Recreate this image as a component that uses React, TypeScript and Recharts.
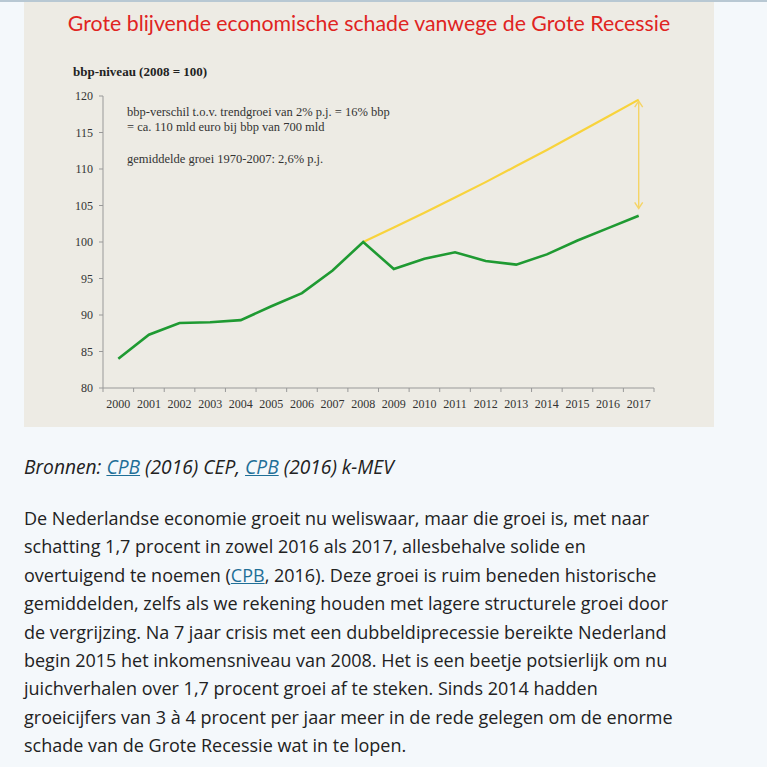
import { LineChart, Line, XAxis, YAxis, ReferenceLine } from 'recharts';

const years = [2000, 2001, 2002, 2003, 2004, 2005, 2006, 2007, 2008, 2009, 2010, 2011, 2012, 2013, 2014, 2015, 2016, 2017];
const bbpLevel = [84.0, 87.3, 88.9, 89.0, 89.3, 91.2, 93.0, 96.1, 100.0, 96.3, 97.7, 98.6, 97.4, 96.9, 98.3, 100.2, 101.9, 103.6];
const trendLevel = [null, null, null, null, null, null, null, null, 100.0, 102.0, 104.0, 106.1, 108.2, 110.4, 112.6, 114.9, 117.2, 119.5];
const yTicks = [80, 85, 90, 95, 100, 105, 110, 115, 120];
const gapTop = 119.3;
const gapBottom = 104.6;

const paragraphLines = [
  'De Nederlandse economie groeit nu weliswaar, maar die groei is, met naar',
  'schatting 1,7 procent in zowel 2016 als 2017, allesbehalve solide en',
  null,
  'gemiddelden, zelfs als we rekening houden met lagere structurele groei door',
  'de vergrijzing. Na 7 jaar crisis met een dubbeldiprecessie bereikte Nederland',
  'begin 2015 het inkomensniveau van 2008. Het is een beetje potsierlijk om nu',
  'juichverhalen over 1,7 procent groei af te steken. Sinds 2014 hadden',
  'groeicijfers van 3 à 4 procent per jaar meer in de rede gelegen om de enorme',
  'schade van de Grote Recessie wat in te lopen.',
];

const data = years.map((year, i) => ({ year, bbp: bbpLevel[i], trend: trendLevel[i] }));

// tick marks sit between the years, labels on the years
const xTicks: number[] = [];
years.forEach(y => { xTicks.push(y - 0.5); xTicks.push(y); });
xTicks.push(years[years.length - 1] + 0.5);

const serif = '"Liberation Serif", "DejaVu Serif", serif';
const sans = 'Lato, "Open Sans", sans-serif';
const body = '"Open Sans", Lato, sans-serif';
const linkColor = '#1f6f97';

function YearTick(props: any) {
  const { x, y, payload } = props;
  const v = payload.value;
  if (Number.isInteger(v)) {
    return (
      <text x={x} y={y + 20} textAnchor="middle" fontFamily={serif} fontSize={12} fill="#333">{v}</text>
    );
  }
  return <line x1={x} y1={y} x2={x} y2={y + 4} stroke="#999" />;
}

function GapArrow(props: any) {
  const { x1, y1, y2 } = props;
  const c = '#f5d466';
  return (
    <g stroke={c} strokeWidth={1.4} fill="none">
      <line x1={x1} y1={y1} x2={x1} y2={y2} />
      <polyline points={`${x1 - 4},${y1 + 6} ${x1},${y1} ${x1 + 4},${y1 + 6}`} />
      <polyline points={`${x1 - 4},${y2 - 6} ${x1},${y2} ${x1 + 4},${y2 - 6}`} />
    </g>
  );
}

const Cpb = () => <a style={{ color: linkColor, textDecoration: 'underline' }}>CPB</a>;

export default function App() {
  return (
    <div style={{ position: 'relative', width: 767, height: 767, background: '#f4f8fb', overflow: 'hidden' }}>
      <style>{'body{margin:0}'}</style>
      <div style={{ position: 'absolute', left: 0, top: 0, width: 767, height: 2, background: '#b8c8d3' }} />
      <div style={{ position: 'absolute', left: 24, top: 2, width: 690, height: 425, background: '#edebe4' }}>
        <div style={{ position: 'absolute', left: 0, top: 8, width: 690, textAlign: 'center', color: '#e0241f', fontFamily: sans, fontSize: 21.3, lineHeight: '26px' }}>
          Grote blijvende economische schade vanwege de Grote Recessie
        </div>
        <div style={{ position: 'absolute', left: 49, top: 62, fontFamily: serif, fontWeight: 'bold', fontSize: 13, color: '#222' }}>
          bbp-niveau (2008 = 100)
        </div>
        <div style={{ position: 'absolute', left: 103, top: 103, fontFamily: serif, fontSize: 12.5, lineHeight: '15px', color: '#333' }}>
          <div>bbp-verschil t.o.v. trendgroei van 2% p.j. = 16% bbp</div>
          <div>= ca. 110 mld euro bij bbp van 700 mld</div>
          <div style={{ marginTop: 17 }}>gemiddelde groei 1970-2007: 2,6% p.j.</div>
        </div>
        <div style={{ position: 'absolute', left: 0, top: -2 }}>
          <LineChart width={690} height={427} data={data} margin={{ top: 96, right: 60, bottom: 9, left: 39 }}>
            <XAxis
              dataKey="year"
              type="number"
              domain={[1999.5, 2017.5]}
              ticks={xTicks}
              interval={0}
              tickSize={0}
              tickMargin={0}
              tick={<YearTick />}
              axisLine={{ stroke: '#999' }}
              tickLine={false}
              height={30}
            />
            <YAxis
              type="number"
              domain={[80, 120]}
              ticks={yTicks}
              interval={0}
              width={40}
              tickSize={4}
              tickMargin={6}
              tick={{ fontFamily: serif, fontSize: 12, fill: '#333' }}
              axisLine={{ stroke: '#999' }}
              tickLine={{ stroke: '#999' }}
            />
            <ReferenceLine
              segment={[{ x: 2017, y: gapTop }, { x: 2017, y: gapBottom }]}
              shape={<GapArrow />}
              ifOverflow="visible"
            />
            <Line dataKey="trend" stroke="#f8d33c" strokeWidth={2.2} dot={false} isAnimationActive={false} connectNulls={false} />
            <Line dataKey="bbp" stroke="#1f9a32" strokeWidth={2.6} dot={false} isAnimationActive={false} />
          </LineChart>
        </div>
      </div>
      <div style={{ position: 'absolute', left: 24, top: 453, fontFamily: body, fontStyle: 'italic', fontSize: 19.2, color: '#222', whiteSpace: 'nowrap' }}>
        Bronnen: <Cpb /> (2016) CEP, <Cpb /> (2016) k-MEV
      </div>
      <div style={{ position: 'absolute', left: 24, top: 504, fontFamily: body, fontSize: 18, lineHeight: '28.4px', color: '#222', whiteSpace: 'nowrap' }}>
        {paragraphLines.map((l, i) => (
          <div key={i}>
            {l !== null ? l : <>overtuigend te noemen (<Cpb />, 2016). Deze groei is ruim beneden historische</>}
          </div>
        ))}
      </div>
    </div>
  );
}
